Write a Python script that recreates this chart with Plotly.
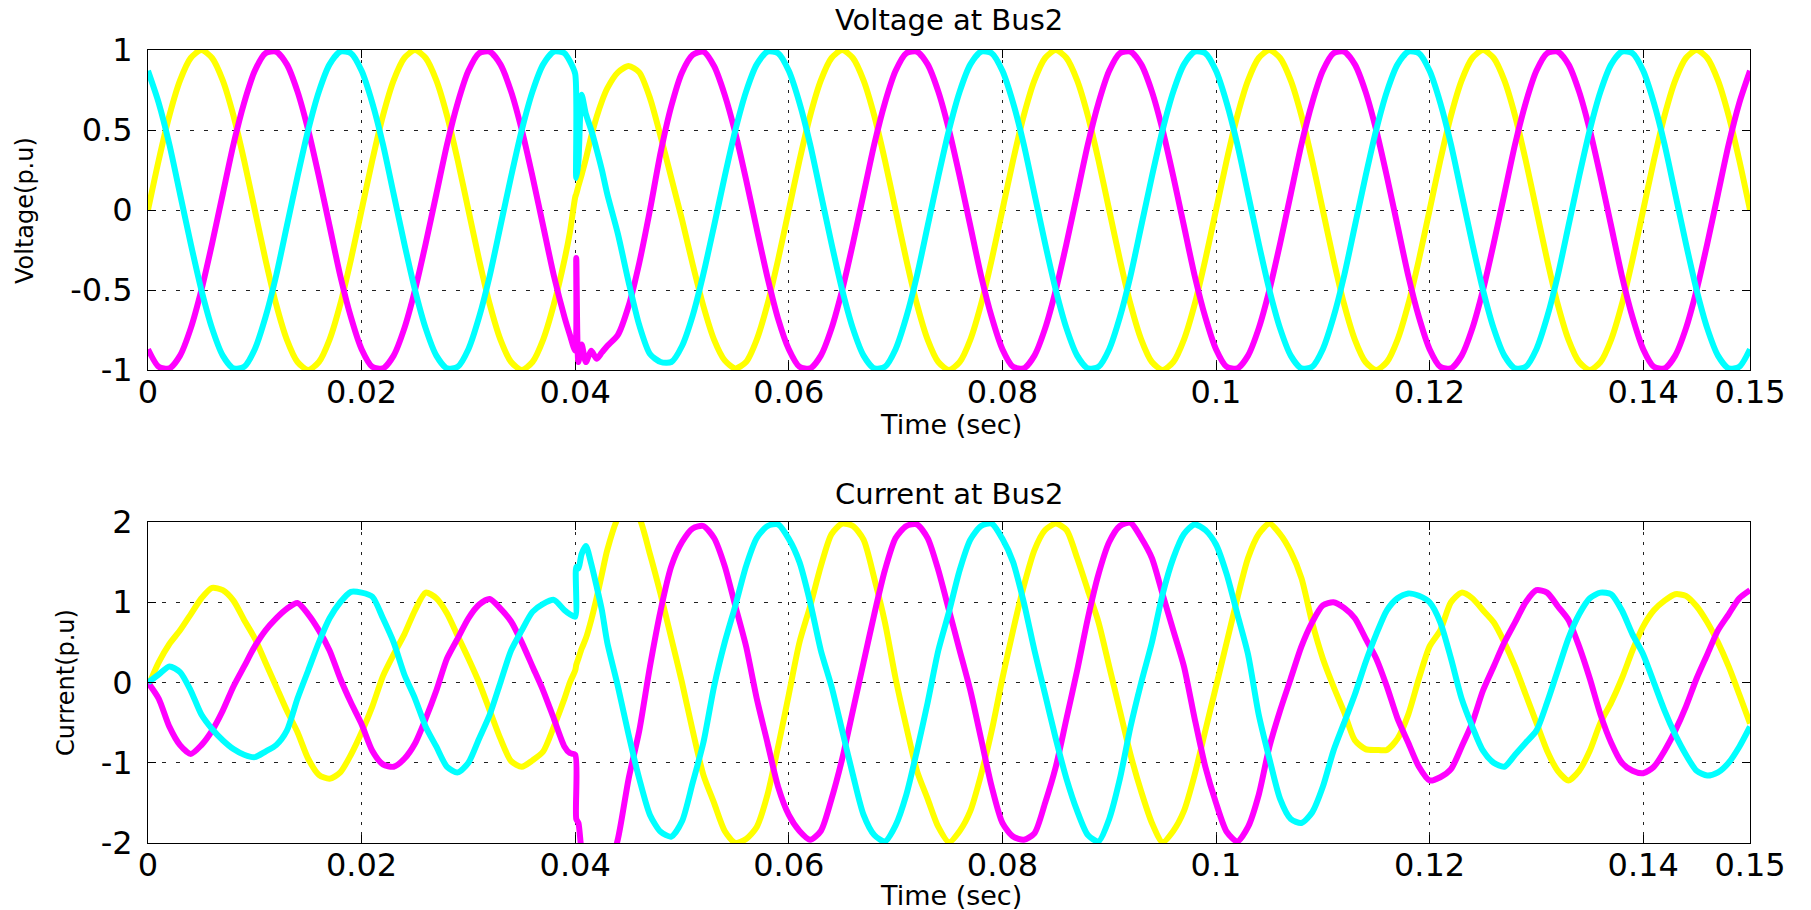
import plotly.graph_objects as go

# ---------------- time base (ms) ----------------
time_pre_ms = list(range(0, 40))
time_mid_ms = [39.5, 40, 40.1, 40.3, 40.6, 41, 41.5, 42, 42.5, 43]
time_post_ms = list(range(44, 151))
time_s = [t / 1000.0 for t in (time_pre_ms + time_mid_ms + time_post_ms)]

# ---------------- Voltage at Bus2 (p.u) ----------------
va_pre = [0.0, 0.31, 0.59, 0.81, 0.95, 1.0, 0.95, 0.81, 0.59, 0.31, 0.0, -0.31, -0.59, -0.81, -0.95, -1.0, -0.95, -0.81, -0.59, -0.31,
          0.0, 0.31, 0.59, 0.81, 0.95, 1.0, 0.95, 0.81, 0.59, 0.31, 0.0, -0.31, -0.59, -0.81, -0.95, -1.0, -0.95, -0.81, -0.59, -0.31]
va_mid = [-0.14, 0.08, 0.1, 0.15, 0.22, 0.32, 0.46, 0.58, 0.68, 0.76]
va_post = [0.86, 0.9, 0.86, 0.7, 0.46, 0.2, -0.06, -0.34, -0.6, -0.81, -0.94, -0.99, -0.95, -0.81, -0.59, -0.31,
           0.0, 0.31, 0.59, 0.81, 0.95, 1.0, 0.95, 0.81, 0.59, 0.31, 0.0, -0.31, -0.59, -0.81, -0.95, -1.0, -0.95, -0.81, -0.59, -0.31,
           0.0, 0.31, 0.59, 0.81, 0.95, 1.0, 0.95, 0.81, 0.59, 0.31, 0.0, -0.31, -0.59, -0.81, -0.95, -1.0, -0.95, -0.81, -0.59, -0.31,
           0.0, 0.31, 0.59, 0.81, 0.95, 1.0, 0.95, 0.81, 0.59, 0.31, 0.0, -0.31, -0.59, -0.81, -0.95, -1.0, -0.95, -0.81, -0.59, -0.31,
           0.0, 0.31, 0.59, 0.81, 0.95, 1.0, 0.95, 0.81, 0.59, 0.31, 0.0, -0.31, -0.59, -0.81, -0.95, -1.0, -0.95, -0.81, -0.59, -0.31,
           0.0, 0.31, 0.59, 0.81, 0.95, 1.0, 0.95, 0.81, 0.59, 0.31, 0.0]

vb_pre = [-0.87, -0.98, -0.99, -0.91, -0.74, -0.5, -0.21, 0.1, 0.41, 0.67, 0.87, 0.98, 0.99, 0.91, 0.74, 0.5, 0.21, -0.1, -0.41, -0.67,
          -0.87, -0.98, -0.99, -0.91, -0.74, -0.5, -0.21, 0.1, 0.41, 0.67, 0.87, 0.98, 0.99, 0.91, 0.74, 0.5, 0.21, -0.1, -0.41, -0.67]
vb_mid = [-0.78, -0.88, -0.3, -0.95, -0.84, -0.95, -0.88, -0.93, -0.89, -0.85]
vb_post = [-0.78, -0.6, -0.33, 0.0, 0.36, 0.65, 0.86, 0.97, 0.99, 0.9, 0.72, 0.48, 0.19, -0.12, -0.42, -0.68,
           -0.87, -0.98, -0.99, -0.91, -0.74, -0.5, -0.21, 0.1, 0.41, 0.67, 0.87, 0.98, 0.99, 0.91, 0.74, 0.5, 0.21, -0.1, -0.41, -0.67,
           -0.87, -0.98, -0.99, -0.91, -0.74, -0.5, -0.21, 0.1, 0.41, 0.67, 0.87, 0.98, 0.99, 0.91, 0.74, 0.5, 0.21, -0.1, -0.41, -0.67,
           -0.87, -0.98, -0.99, -0.91, -0.74, -0.5, -0.21, 0.1, 0.41, 0.67, 0.87, 0.98, 0.99, 0.91, 0.74, 0.5, 0.21, -0.1, -0.41, -0.67,
           -0.87, -0.98, -0.99, -0.91, -0.74, -0.5, -0.21, 0.1, 0.41, 0.67, 0.87, 0.98, 0.99, 0.91, 0.74, 0.5, 0.21, -0.1, -0.41, -0.67,
           -0.87, -0.98, -0.99, -0.91, -0.74, -0.5, -0.21, 0.1, 0.41, 0.67, 0.87]

vc_pre = [0.87, 0.67, 0.41, 0.1, -0.21, -0.5, -0.74, -0.91, -0.99, -0.98, -0.87, -0.67, -0.41, -0.1, 0.21, 0.5, 0.74, 0.91, 0.99, 0.98,
          0.87, 0.67, 0.41, 0.1, -0.21, -0.5, -0.74, -0.91, -0.99, -0.98, -0.87, -0.67, -0.41, -0.1, 0.21, 0.5, 0.74, 0.91, 0.99, 0.98]
vc_mid = [0.93, 0.85, 0.2, 0.3, 0.72, 0.6, 0.5, 0.38, 0.25, 0.1]
vc_post = [-0.15, -0.45, -0.72, -0.9, -0.95, -0.95, -0.85, -0.66, -0.4, -0.1, 0.21, 0.5, 0.74, 0.91, 0.99, 0.98,
           0.87, 0.67, 0.41, 0.1, -0.21, -0.5, -0.74, -0.91, -0.99, -0.98, -0.87, -0.67, -0.41, -0.1, 0.21, 0.5, 0.74, 0.91, 0.99, 0.98,
           0.87, 0.67, 0.41, 0.1, -0.21, -0.5, -0.74, -0.91, -0.99, -0.98, -0.87, -0.67, -0.41, -0.1, 0.21, 0.5, 0.74, 0.91, 0.99, 0.98,
           0.87, 0.67, 0.41, 0.1, -0.21, -0.5, -0.74, -0.91, -0.99, -0.98, -0.87, -0.67, -0.41, -0.1, 0.21, 0.5, 0.74, 0.91, 0.99, 0.98,
           0.87, 0.67, 0.41, 0.1, -0.21, -0.5, -0.74, -0.91, -0.99, -0.98, -0.87, -0.67, -0.41, -0.1, 0.21, 0.5, 0.74, 0.91, 0.99, 0.98,
           0.87, 0.67, 0.41, 0.1, -0.21, -0.5, -0.74, -0.91, -0.99, -0.98, -0.87]

# ---------------- Current at Bus2 (p.u) ----------------
ia_pre = [-0.05, 0.25, 0.48, 0.65, 0.85, 1.05, 1.18, 1.15, 1.02, 0.78, 0.55, 0.25, -0.05, -0.35, -0.62, -0.95, -1.15, -1.2, -1.12, -0.9,
          -0.62, -0.3, 0.08, 0.35, 0.6, 0.9, 1.12, 1.05, 0.86, 0.58, 0.3, 0.0, -0.35, -0.7, -0.98, -1.05, -0.97, -0.86, -0.55, -0.2]
ia_mid = [0.0, 0.15, 0.22, 0.3, 0.42, 0.55, 0.78, 1.05, 1.35, 1.65]
ia_post = [2.05, 2.2, 2.05, 1.6, 1.1, 0.55, 0.0, -0.6, -1.15, -1.5, -1.85, -2.0, -1.95, -1.8, -1.4, -0.8,
           -0.15, 0.5, 0.95, 1.45, 1.85, 1.98, 1.95, 1.78, 1.3, 0.75, 0.05, -0.55, -1.1, -1.45, -1.8, -1.99, -1.85, -1.6, -1.15, -0.6,
           0.05, 0.65, 1.2, 1.65, 1.9, 1.98, 1.9, 1.55, 1.15, 0.75, 0.2, -0.35, -0.9, -1.36, -1.75, -1.99, -1.85, -1.6, -1.15, -0.6,
           -0.05, 0.5, 1.05, 1.55, 1.85, 1.98, 1.85, 1.63, 1.3, 0.75, 0.3, -0.05, -0.37, -0.72, -0.83, -0.84, -0.84, -0.7, -0.4, 0.05,
           0.45, 0.65, 1.0, 1.12, 1.05, 0.9, 0.75, 0.5, 0.2, -0.15, -0.5, -0.85, -1.1, -1.22, -1.1, -0.85, -0.5, -0.25, 0.05, 0.4,
           0.7, 0.9, 1.02, 1.1, 1.08, 0.95, 0.75, 0.5, 0.2, -0.15, -0.51]

ib_pre = [0.0, -0.2, -0.55, -0.78, -0.89, -0.78, -0.6, -0.35, -0.05, 0.2, 0.45, 0.65, 0.8, 0.92, 0.99, 0.85, 0.65, 0.4, 0.05, -0.25,
          -0.52, -0.85, -1.02, -1.05, -0.95, -0.76, -0.45, -0.1, 0.3, 0.55, 0.8, 0.97, 1.04, 0.92, 0.76, 0.5, 0.2, -0.1, -0.45, -0.8]
ib_mid = [-0.88, -0.9, -1.7, -1.75, -2.1, -2.3, -2.5, -2.6, -2.55, -2.4]
ib_post = [-1.95, -1.2, -0.6, 0.2, 0.9, 1.45, 1.75, 1.92, 1.95, 1.8, 1.45, 0.95, 0.45, -0.2, -0.75, -1.3,
           -1.65, -1.85, -1.96, -1.85, -1.45, -0.95, -0.35, 0.25, 0.85, 1.4, 1.8, 1.95, 1.97, 1.8, 1.4, 0.9, 0.4, -0.1, -0.7, -1.3,
           -1.75, -1.92, -1.96, -1.88, -1.5, -1.05, -0.45, 0.15, 0.8, 1.35, 1.75, 1.95, 1.99, 1.8, 1.55, 1.1, 0.65, 0.2, -0.45, -1.05,
           -1.5, -1.86, -1.98, -1.8, -1.4, -0.8, -0.35, 0.05, 0.45, 0.75, 0.96, 1.0, 0.93, 0.8, 0.55, 0.3, -0.05, -0.45, -0.75, -1.05,
           -1.22, -1.18, -1.08, -0.8, -0.5, -0.1, 0.2, 0.5, 0.75, 1.0, 1.15, 1.12, 0.95, 0.78, 0.45, 0.05, -0.4, -0.75, -1.0, -1.1,
           -1.13, -1.05, -0.85, -0.6, -0.3, 0.05, 0.35, 0.65, 0.85, 1.05, 1.15]

ic_pre = [0.0, 0.1, 0.2, 0.13, -0.1, -0.4, -0.58, -0.72, -0.83, -0.9, -0.93, -0.86, -0.78, -0.6, -0.2, 0.15, 0.5, 0.8, 1.0, 1.13,
          1.12, 1.07, 0.8, 0.5, 0.1, -0.2, -0.55, -0.8, -1.05, -1.12, -1.0, -0.7, -0.4, 0.0, 0.4, 0.65, 0.88, 0.98, 1.03, 0.9]
ic_mid = [0.85, 0.82, 1.44, 1.42, 1.6, 1.7, 1.48, 1.2, 0.9, 0.5]
ic_post = [-0.05, -0.65, -1.2, -1.65, -1.86, -1.92, -1.73, -1.25, -0.75, -0.05, 0.5, 0.96, 1.45, 1.8, 1.95, 1.97,
           1.79, 1.5, 1.0, 0.4, -0.05, -0.6, -1.15, -1.65, -1.9, -1.98, -1.78, -1.4, -0.85, -0.25, 0.4, 0.88, 1.4, 1.78, 1.95, 1.98,
           1.79, 1.5, 1.0, 0.4, -0.15, -0.7, -1.2, -1.6, -1.9, -1.98, -1.7, -1.2, -0.55, 0.0, 0.5, 1.1, 1.55, 1.85, 1.97, 1.9,
           1.72, 1.35, 0.85, 0.35, -0.4, -0.95, -1.45, -1.7, -1.75, -1.62, -1.3, -0.85, -0.5, -0.15, 0.25, 0.6, 0.9, 1.05, 1.11, 1.08,
           1.0, 0.75, 0.3, -0.2, -0.55, -0.85, -1.0, -1.05, -0.9, -0.75, -0.6, -0.25, 0.15, 0.55, 0.85, 1.05, 1.12, 1.1, 0.9, 0.6,
           0.35, 0.0, -0.35, -0.65, -0.9, -1.1, -1.16, -1.12, -1.0, -0.8, -0.55]

voltage_a = va_pre + va_mid + va_post
voltage_b = vb_pre + vb_mid + vb_post
voltage_c = vc_pre + vc_mid + vc_post
current_a = ia_pre + ia_mid + ia_post
current_b = ib_pre + ib_mid + ib_post
current_c = ic_pre + ic_mid + ic_post

x_tickvals = [0, 0.02, 0.04, 0.06, 0.08, 0.1, 0.12, 0.14, 0.15]
x_ticktext = ["0", "0.02", "0.04", "0.06", "0.08", "0.1", "0.12", "0.14", "0.15"]
v_tickvals = [-1, -0.5, 0, 0.5, 1]
v_ticktext = ["-1", "-0.5", "0", "0.5", "1"]
i_tickvals = [-2, -1, 0, 1, 2]
i_ticktext = ["-2", "-1", "0", "1", "2"]

phase_colors = ["#FFFF00", "#FF00FF", "#00FFFF"]

W, H = 1811, 910
fig = go.Figure()
for ys, col in zip([voltage_a, voltage_b, voltage_c], phase_colors):
    fig.add_trace(go.Scatter(x=time_s, y=ys, mode="lines",
                             line=dict(color=col, width=6, shape="spline", smoothing=0.7),
                             xaxis="x", yaxis="y", showlegend=False, hoverinfo="skip"))
for ys, col in zip([current_a, current_b, current_c], phase_colors):
    fig.add_trace(go.Scatter(x=time_s, y=ys, mode="lines",
                             line=dict(color=col, width=6, shape="spline", smoothing=0.7),
                             xaxis="x2", yaxis="y2", showlegend=False, hoverinfo="skip"))

tick_font = dict(family="DejaVu Sans", size=32, color="black")
x_dom = [148 / W, 1750 / W]
common = dict(showline=True, linecolor="black", linewidth=1, mirror="ticks", ticks="inside",
              ticklen=8, tickcolor="black", showgrid=True, gridcolor="#222222", gridwidth=1,
              zeroline=False, tickfont=tick_font, automargin=False)

fig.update_layout(
    width=W, height=H, margin=dict(l=0, r=0, t=0, b=0, autoexpand=False),
    paper_bgcolor="white", plot_bgcolor="white",
    xaxis=dict(domain=x_dom, range=[0, 0.15], tickvals=x_tickvals, ticktext=x_ticktext,
               anchor="y", griddash="3px,7px", ticklabelstandoff=-6, **common),
    yaxis=dict(domain=[1 - 370 / H, 1 - 50 / H], range=[-1, 1], tickvals=v_tickvals, ticktext=v_ticktext,
               anchor="x", griddash="4px,10px", ticklabelstandoff=8, **common),
    xaxis2=dict(domain=x_dom, range=[0, 0.15], tickvals=x_tickvals, ticktext=x_ticktext,
                anchor="y2", griddash="3px,7px", ticklabelstandoff=-6, **common),
    yaxis2=dict(domain=[1 - 843 / H, 1 - 522 / H], range=[-2, 2], tickvals=i_tickvals, ticktext=i_ticktext,
                anchor="x2", griddash="4px,10px", ticklabelstandoff=8, **common),
)

title_font = dict(family="DejaVu Sans", size=29, color="black")
xlab_font = dict(family="DejaVu Sans", size=27, color="black")
ylab_font = dict(family="DejaVu Sans", size=24, color="black")
ann = [
    dict(text="Voltage at Bus2", x=949 / W, y=1 - 20 / H, font=title_font, textangle=0),
    dict(text="Time (sec)", x=951 / W, y=1 - 424 / H, font=xlab_font, textangle=0),
    dict(text="Current at Bus2", x=949 / W, y=1 - 494 / H, font=title_font, textangle=0),
    dict(text="Time (sec)", x=951 / W, y=1 - 895 / H, font=xlab_font, textangle=0),
    dict(text="Voltage(p.u)", x=25 / W, y=1 - 211 / H, font=ylab_font, textangle=-90),
    dict(text="Current(p.u)", x=66 / W, y=1 - 683 / H, font=ylab_font, textangle=-90),
]
for a in ann:
    fig.add_annotation(xref="paper", yref="paper", xanchor="center", yanchor="middle",
                       showarrow=False, **a)

fit_js = """
var gd = document.getElementById('{plot_id}');
var de = document.documentElement, bd = document.body;
de.style.margin = '0'; de.style.padding = '0'; de.style.overflow = 'hidden';
bd.style.margin = '0'; bd.style.padding = '0'; bd.style.overflow = 'hidden';
var w = window.innerWidth, h = window.innerHeight;
if (w > 200 && h > 200 && (w !== 1811 || h !== 910)) {
    Plotly.relayout(gd, {width: w, height: h});
}
"""

fig.write_html("out.html", config={"displayModeBar": False}, post_script=fit_js)
